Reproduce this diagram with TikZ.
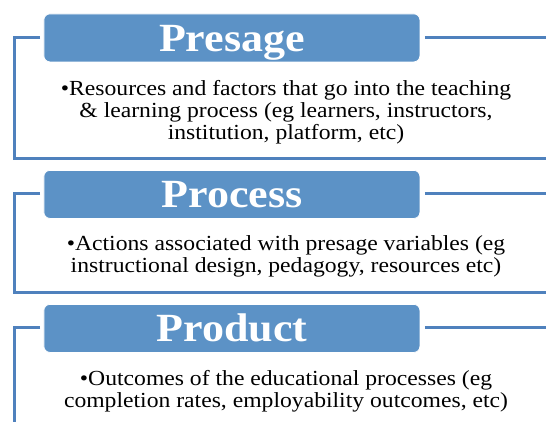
\documentclass[tikz,border=0pt]{standalone}
\usepackage{fontspec}
\setmainfont[FakeStretch=1.1]{Liberation Serif}
\definecolor{hdrfill}{RGB}{92,146,198}
\definecolor{frameline}{RGB}{79,129,189}
\tikzset{
  hdr/.style={draw=white, line width=0.8pt, fill=hdrfill, rounded corners=6pt,
    minimum width=376pt, minimum height=48pt, inner sep=0pt, anchor=north west,
    text height=27pt, text depth=0pt,
    text=white, font=\fontsize{40}{42}\selectfont\bfseries},
  body/.style={align=center, anchor=north, inner sep=0pt, text=black,
    font=\fontsize{21.5}{22}\selectfont},
  frm/.style={draw=frameline, line width=3pt},
}
\begin{document}
\begin{tikzpicture}[x=1pt, y=-1pt]
\useasboundingbox (0,0) rectangle (546,421);
\clip (0,0) rectangle (546,421);
\fill[white] (0,0) rectangle (546,421);

% frame 1
\node[hdr] (h1) at (43.5,13.5) {Presage};
\coordinate (f1tl) at (14.5,37);
\coordinate (f1bl) at (14.5,158);
\coordinate (f1br) at (560,158);
\coordinate (f1tr) at (560,37);
\draw[frm] ([xshift=-3.5pt]h1.west |- f1tl) -- (f1tl) -- (f1bl) -- (f1br);
\draw[frm] ([xshift=4.5pt]h1.east |- f1tr) -- (f1tr);
\node[body] (b1) at (286,80.5) {\textbullet Resources and factors that go into the teaching\\ \& learning process (eg learners, instructors,\\ institution, platform, etc)};

% frame 2
\node[hdr] (h2) at (43.5,170) {Process};
\coordinate (f2tl) at (14.5,193.5);
\coordinate (f2bl) at (14.5,292.5);
\coordinate (f2br) at (560,292.5);
\coordinate (f2tr) at (560,193.5);
\draw[frm] ([xshift=-3.5pt]h2.west |- f2tl) -- (f2tl) -- (f2bl) -- (f2br);
\draw[frm] ([xshift=4.5pt]h2.east |- f2tr) -- (f2tr);
\node[body] (b2) at (286,235.5) {\textbullet Actions associated with presage variables (eg\\ instructional design, pedagogy, resources etc)};

% frame 3
\node[hdr] (h3) at (43.5,304) {Product};
\coordinate (f3tl) at (14.5,327.5);
\coordinate (f3bl) at (14.5,440);
\coordinate (f3tr) at (560,327.5);
\draw[frm] ([xshift=-3.5pt]h3.west |- f3tl) -- (f3tl) -- (f3bl);
\draw[frm] ([xshift=4.5pt]h3.east |- f3tr) -- (f3tr);
\node[body] (b3) at (286,370.5) {\textbullet Outcomes of the educational processes (eg\\ completion rates, employability outcomes, etc)};
\end{tikzpicture}
\end{document}
